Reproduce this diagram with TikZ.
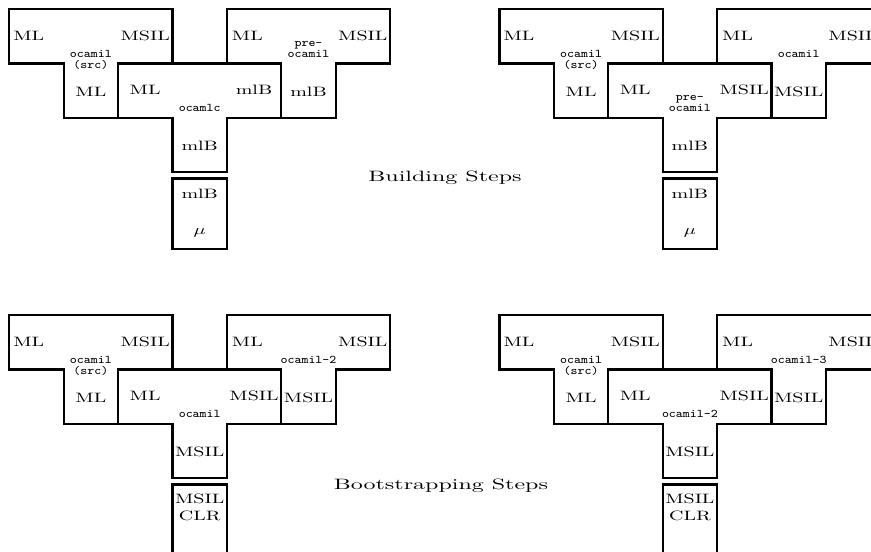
\documentclass[tikz,border=0pt]{standalone}
\usepackage{graphicx}
\newcommand\RLab[1]{\scalebox{2.0}[1.36]{#1}}
\newcommand\TTLab[1]{\scalebox{1.96}[1.75]{\fontsize{6.7}{7}\selectfont\ttfamily #1}}
\newcommand\CapLab[1]{\scalebox{2.4}[1.5]{#1}}
\tikzset{
  tline/.style={draw=black,line width=2.2pt,line join=miter},
  lab/.style={anchor=base,inner sep=0pt,outer sep=0pt}
}
% #1 prefix, #2 x, #3 y, #4 left label, #5 left x, #6 right label, #7 stem label, #8 name nodes
\newcommand\TDiag[8]{%
\begin{scope}[shift={(#2,#3)}]
 \draw[tline] (0,0) -- (163.2,0) -- (163.2,54.4) -- (108.8,54.4) -- (108.8,108.8)
   -- (54.4,108.8) -- (54.4,54.4) -- (0,54.4) -- cycle;
 \node[lab] (#1-l) at (#5,31.5) {\RLab{#4}};
 \node[lab] (#1-r) at (135.9,31.5) {\RLab{#6}};
 \node[lab] (#1-s) at (81.6,87) {\RLab{#7}};
 #8
\end{scope}}
% #1 prefix, #2 x, #3 y, #4 top label, #5 baseline, #6 bottom label, #7 baseline
\newcommand\MachBox[7]{%
\begin{scope}[shift={(#2,#3)}]
 \draw[tline] (163.2,169.5) rectangle (217.6,240);
 \node[lab] (#1-a) at (190.4,#5) {\RLab{#4}};
 \node[lab] (#1-b) at (190.4,#7) {\RLab{#6}};
\end{scope}}
\begin{document}
\begin{tikzpicture}[x=1pt,y=-1pt]
\useasboundingbox (0,0) rectangle (871,552);
\clip (0,0) rectangle (871,552);

% ---------- top left ----------
\TDiag{a1}{9.3}{9}{ML}{19.5}{MSIL}{ML}{%
  \node[lab] (a1-n) at (81.6,48.3) {\TTLab{ocamil}};
  \node[lab] (a1-m) at (81.6,59.5) {\TTLab{(src)}};}
\TDiag{a2}{118.1}{63.4}{ML}{27}{mlB}{mlB}{%
  \node[lab] (a2-n) at (81.6,48.5) {\TTLab{ocamlc}};}
\TDiag{a3}{226.9}{9}{ML}{20.5}{MSIL}{mlB}{%
  \node[lab] (a3-m) at (81.6,37) {\TTLab{pre-}};
  \node[lab] (a3-n) at (81.6,48.3) {\TTLab{ocamil}};}
\MachBox{a4}{9.3}{9}{mlB}{189.3}{$\mu$}{225.5}

% ---------- top right ----------
\TDiag{b1}{499.5}{9}{ML}{19.5}{MSIL}{ML}{%
  \node[lab] (b1-n) at (81.6,48.3) {\TTLab{ocamil}};
  \node[lab] (b1-m) at (81.6,59.5) {\TTLab{(src)}};}
\TDiag{b2}{608.3}{63.4}{ML}{27}{MSIL}{mlB}{%
  \node[lab] (b2-m) at (81.6,37) {\TTLab{pre-}};
  \node[lab] (b2-n) at (81.6,48.3) {\TTLab{ocamil}};}
\TDiag{b3}{717.1}{9}{ML}{20.5}{MSIL}{MSIL}{%
  \node[lab] (b3-n) at (81.6,48.3) {\TTLab{ocamil}};}
\MachBox{b4}{499.5}{9}{mlB}{189.3}{$\mu$}{225.5}

\node[lab] (cap1) at (445,181.5) {\CapLab{Building Steps}};

% ---------- bottom left ----------
\TDiag{c1}{9.3}{315}{ML}{19.5}{MSIL}{ML}{%
  \node[lab] (c1-n) at (81.6,48.3) {\TTLab{ocamil}};
  \node[lab] (c1-m) at (81.6,59.5) {\TTLab{(src)}};}
\TDiag{c2}{118.1}{369.4}{ML}{27}{MSIL}{MSIL}{%
  \node[lab] (c2-n) at (81.6,48.5) {\TTLab{ocamil}};}
\TDiag{c3}{226.9}{315}{ML}{20.5}{MSIL}{MSIL}{%
  \node[lab] (c3-n) at (81.6,48.3) {\TTLab{ocamil-2}};}
\MachBox{c4}{9.3}{315}{MSIL}{188.3}{CLR}{205.7}

% ---------- bottom right ----------
\TDiag{d1}{499.5}{315}{ML}{19.5}{MSIL}{ML}{%
  \node[lab] (d1-n) at (81.6,48.3) {\TTLab{ocamil}};
  \node[lab] (d1-m) at (81.6,59.5) {\TTLab{(src)}};}
\TDiag{d2}{608.3}{369.4}{ML}{27}{MSIL}{MSIL}{%
  \node[lab] (d2-n) at (81.6,48.5) {\TTLab{ocamil-2}};}
\TDiag{d3}{717.1}{315}{ML}{20.5}{MSIL}{MSIL}{%
  \node[lab] (d3-n) at (81.6,48.3) {\TTLab{ocamil-3}};}
\MachBox{d4}{499.5}{315}{MSIL}{188.3}{CLR}{205.7}

\node[lab] (cap2) at (441,489) {\CapLab{Bootstrapping Steps}};
\end{tikzpicture}
\end{document}
